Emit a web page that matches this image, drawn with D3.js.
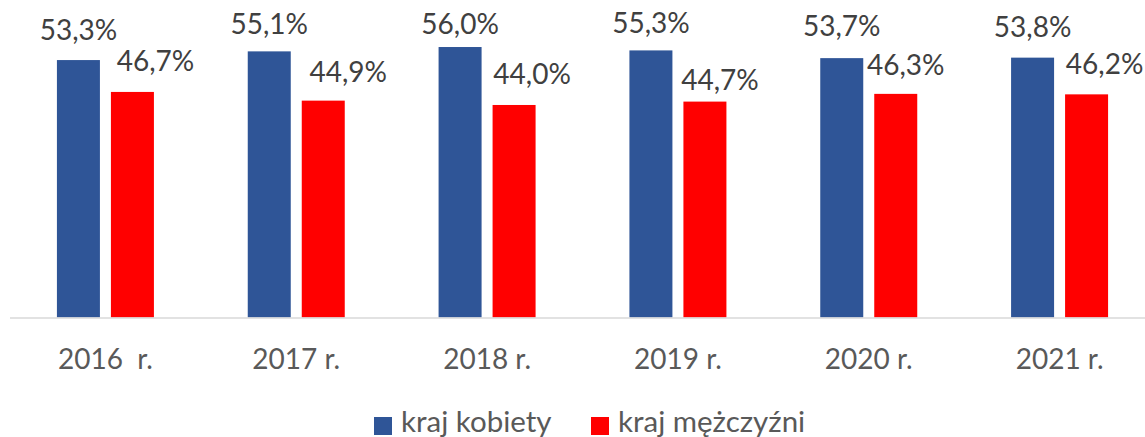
<!DOCTYPE html>
<html>
<head>
<meta charset="utf-8">
<script src="https://cdn.jsdelivr.net/npm/d3@7"></script>
<style>
  body { margin: 0; background: #fff; }
  text { font-family: Lato, "Open Sans", sans-serif; }
</style>
</head>
<body>
<div id="chart"></div>
<script>
// Chart size
const chartWidth = 1145;
const chartHeight = 437;

// Data
const years = ["2016  r.", "2017 r.", "2018 r.", "2019 r.", "2020 r.", "2021 r."];
const women = [53.3, 55.1, 56.0, 55.3, 53.7, 53.8];
const men = [46.7, 44.9, 44.0, 44.7, 46.3, 46.2];
const seriesNames = ["kraj kobiety", "kraj mężczyźni"];
const seriesColors = ["#2F5597", "#FF0000"];

// hand placed label nudges (the original labels were dragged around a bit)
const womenLabelGap = [20, 17, 13, 17, 22, 21];
const menLabelGap = [21, 19, 21, 12, 19, 20];
const menLabelShift = [23, 25, 18, 15, 10, 18];

const baseline = 317.5;

let svg = d3.select("#chart").append("svg")
  .attr("width", chartWidth)
  .attr("height", chartHeight);

let x = d3.scaleBand()
  .domain(years)
  .range([10, 1155])
  .paddingInner(0)
  .paddingOuter(0);

let y = d3.scaleLinear()
  .domain([0, 60])
  .range([baseline, baseline - 60 * 4.83]);

const barW = 43;
const gap = 11;

let rows = years.map(function(yr, i) {
  return {year: yr, vals: [women[i], men[i]], i: i};
});

let groups = svg.selectAll("g.year")
  .data(rows)
  .enter()
  .append("g")
  .attr("class", "year")
  .attr("transform", function(d) {
    return "translate(" + (x(d.year) + x.bandwidth() / 2) + ",0)";
  });

// bars
groups.selectAll("rect")
  .data(function(d) { return d.vals.map(function(v, k) { return {v: v, k: k, i: d.i}; }); })
  .enter()
  .append("rect")
  .attr("x", function(d) { return d.k === 0 ? -(barW + gap / 2) : gap / 2; })
  .attr("width", barW)
  .attr("y", function(d) { return y(d.v); })
  .attr("height", function(d) { return baseline - y(d.v); })
  .style("fill", function(d) { return seriesColors[d.k]; });

// value labels
groups.selectAll("text.val")
  .data(function(d) { return d.vals.map(function(v, k) { return {v: v, k: k, i: d.i}; }); })
  .enter()
  .append("text")
  .attr("class", "val")
  .attr("x", function(d) {
    let cx = d.k === 0 ? -(barW / 2 + gap / 2) : (barW / 2 + gap / 2);
    return d.k === 0 ? cx : cx + menLabelShift[d.i];
  })
  .attr("y", function(d) {
    return y(d.v) - (d.k === 0 ? womenLabelGap[d.i] : menLabelGap[d.i]);
  })
  .attr("text-anchor", "middle")
  .style("font-size", "28px")
  .style("fill", "#404040")
  .text(function(d) { return d.v.toFixed(1).replace(".", ",") + "%"; });

// axis line
svg.append("line")
  .attr("x1", 10)
  .attr("x2", chartWidth)
  .attr("y1", baseline + 0.5)
  .attr("y2", baseline + 0.5)
  .style("stroke", "#d9d9d9")
  .style("stroke-width", 1.5);

// category labels
groups.append("text")
  .attr("y", 369)
  .attr("text-anchor", "middle")
  .style("font-size", "28px")
  .style("fill", "#595959")
  .style("white-space", "pre")
  .attr("xml:space", "preserve")
  .text(function(d) { return d.year; });

// legend
const legendX = [374, 591];
let legend = svg.selectAll("g.legend")
  .data(seriesNames)
  .enter()
  .append("g")
  .attr("class", "legend")
  .attr("transform", function(d, i) { return "translate(" + legendX[i] + ",417)"; });

legend.append("rect")
  .attr("width", 18)
  .attr("height", 18)
  .style("fill", function(d, i) { return seriesColors[i]; });

legend.append("text")
  .attr("x", 27)
  .attr("y", 15)
  .style("font-size", "29.5px")
  .style("fill", "#595959")
  .text(function(d) { return d; });
</script>
</body>
</html>
